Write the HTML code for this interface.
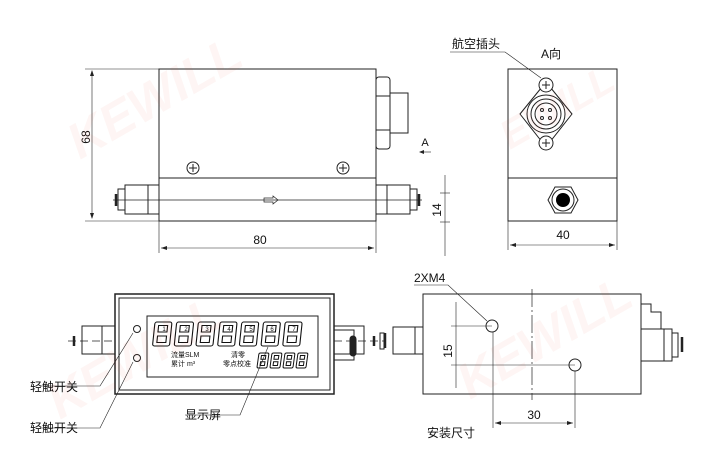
<!DOCTYPE html>
<html><head><meta charset="utf-8"><style>
html,body{margin:0;padding:0;background:#fff;width:715px;height:471px;overflow:hidden}
svg{display:block}
text{font-family:"Liberation Sans","Noto Sans CJK SC",sans-serif;fill:#111}
</style></head><body>
<svg width="715" height="471" viewBox="0 0 715 471" xmlns="http://www.w3.org/2000/svg">
<defs>
<g id="dg" fill="none" stroke="#111" stroke-width="1.1">
<rect x="0" y="0" width="17" height="24" rx="2"/>
<rect x="4" y="3.5" width="9" height="6.5"/>
<rect x="4" y="14" width="9" height="6.5"/>
</g>
<g id="ds" fill="none" stroke="#111" stroke-width="1">
<rect x="0" y="0" width="10" height="15" rx="1.5"/>
<rect x="2.8" y="2.5" width="4.4" height="3.8"/>
<rect x="2.8" y="8.7" width="4.4" height="3.8"/>
</g>
</defs>
<g fill="none" stroke="#222" stroke-width="1">
<!-- TOP LEFT VIEW -->
<rect x="159" y="69" width="217" height="152"/>
<line x1="159" y1="178" x2="376" y2="178"/>
<rect x="125" y="185" width="34" height="29"/>
<line x1="148" y1="185" x2="148" y2="214"/>
<rect x="118" y="189" width="7" height="21"/>
<line x1="116" y1="194" x2="116" y2="206" stroke-width="2.5"/>
<rect x="376" y="185" width="34" height="29"/>
<line x1="387" y1="185" x2="387" y2="214"/>
<rect x="410" y="189" width="7" height="21"/>
<line x1="419" y1="194" x2="419" y2="206" stroke-width="2.5"/>
<line x1="113" y1="200" x2="422" y2="200" stroke-width="0.7"/>
<path d="M264 198h9v-2l5 4-5 4v-2h-9z" stroke-width="0.7"/>
<rect x="376" y="77" width="14" height="72" rx="3"/>
<line x1="376" y1="96" x2="390" y2="96"/><line x1="376" y1="130" x2="390" y2="130"/>
<rect x="390" y="93" width="18" height="40"/>
<circle cx="193" cy="168" r="6"/><path d="M189 168h8M193 164v8"/>
<circle cx="343" cy="168" r="6"/><path d="M339 168h8M343 164v8"/>
<g stroke-width="0.6">
<line x1="85" y1="69" x2="159" y2="69"/><line x1="85" y1="221" x2="159" y2="221"/>
<line x1="92" y1="71" x2="92" y2="218"/>
<line x1="159" y1="221" x2="159" y2="253"/><line x1="376" y1="221" x2="376" y2="253"/>
<line x1="161" y1="248" x2="374" y2="248"/>
<line x1="445" y1="175" x2="445" y2="256"/>
<line x1="440" y1="193" x2="450" y2="193"/><line x1="440" y1="222" x2="450" y2="222"/>
<line x1="420" y1="152" x2="431" y2="152"/>
</g>
</g>
<g fill="#222">
<path d="M92 70l-2 6h4z"/><path d="M92 219l-2-6h4z"/>
<path d="M161 248l6-2v4z"/><path d="M374 248l-6-2v4z"/>
<path d="M419 152l5-2v4z"/>
</g>
<text x="90" y="137" font-size="12" transform="rotate(-90 90 137)" text-anchor="middle">68</text>
<text x="260" y="244" font-size="12" text-anchor="middle">80</text>
<text x="441" y="210" font-size="12" transform="rotate(-90 441 210)" text-anchor="middle">14</text>
<text x="425" y="146" font-size="11" text-anchor="middle">A</text>

<!-- TOP RIGHT VIEW -->
<g fill="none" stroke="#222" stroke-width="1">
<rect x="508" y="69" width="109" height="152"/>
<line x1="508" y1="178" x2="617" y2="178"/>
<path d="M546 82 L572 114 L546 147 L520 114 Z" stroke-linejoin="round"/>
<circle cx="546" cy="114" r="19"/><circle cx="546" cy="114" r="15"/><circle cx="546" cy="114" r="11"/>
<circle cx="542" cy="110" r="1.5"/><circle cx="550" cy="110" r="1.5"/><circle cx="542" cy="118" r="1.5"/><circle cx="550" cy="118" r="1.5"/>
<circle cx="546" cy="85" r="7" fill="#fff"/><path d="M542 85h8M546 81v8"/>
<circle cx="546" cy="143" r="7" fill="#fff"/><path d="M542 143h8M546 139v8"/>
<path d="M555 187h16l7 13-7 13h-16l-7-13z"/>
<circle cx="563" cy="200" r="11"/>
<g stroke-width="0.6">
<line x1="508" y1="221" x2="508" y2="250"/><line x1="617" y1="221" x2="617" y2="250"/>
<line x1="510" y1="245" x2="615" y2="245"/>
<path d="M450 52 H505 L541 78"/>
</g>
</g>
<circle cx="563" cy="200" r="7" fill="#000"/>
<path d="M510 245l6-2v4z M615 245l-6-2v4z" fill="#222"/>
<text x="563" y="239" font-size="12" text-anchor="middle">40</text>
<text x="452" y="48" font-size="12">航空插头</text>
<text x="541" y="58" font-size="12">A向</text>

<!-- BOTTOM LEFT -->
<g fill="none" stroke="#222" stroke-width="1">
<rect x="115" y="294" width="219" height="100" stroke-width="1.5"/>
<rect x="119" y="298" width="211" height="92"/>
<rect x="147" y="316" width="171" height="61"/>
<circle cx="137" cy="329" r="3.5"/><circle cx="137" cy="358" r="3.5"/>
<rect x="82" y="326" width="33" height="28"/>
<line x1="102" y1="326" x2="102" y2="354"/>
<line x1="74" y1="336" x2="74" y2="346" stroke-width="2.5"/>
<line x1="68" y1="341" x2="115" y2="341" stroke-dasharray="8 4" stroke-width="0.7"/>
<rect x="334" y="326" width="30" height="28"/>
<path d="M334 330h20v30h-20"/>
<rect x="350" y="336" width="6" height="20" rx="3" fill="#222"/>
<line x1="374" y1="336" x2="374" y2="346" stroke-width="2.5"/>
<rect x="380" y="333" width="4" height="16"/>
<line x1="334" y1="341" x2="385" y2="341" stroke-dasharray="8 4" stroke-width="0.7"/>
<g stroke-width="0.6">
<path d="M133 333 L100 386 H40"/>
<path d="M133 362 L100 428 H40"/>
<path d="M268 347 L240 415 H185"/>
</g>
</g>
<g transform="translate(155 322) skewX(-6)">
<use href="#dg" x="0"/><use href="#dg" x="21.7"/><use href="#dg" x="43.4"/><use href="#dg" x="65.1"/><use href="#dg" x="86.8"/><use href="#dg" x="108.5"/><use href="#dg" x="130.2"/>
</g>
<g font-size="6" text-anchor="middle">
<text x="164" y="331">1</text><text x="186" y="331">2</text><text x="207" y="331">3</text><text x="229" y="331">4</text><text x="251" y="331">5</text><text x="272" y="331">6</text><text x="294" y="331">7</text>
</g>
<g transform="translate(259 353) skewX(-8)">
<use href="#ds" x="0"/><use href="#ds" x="13"/><use href="#ds" x="26"/><use href="#ds" x="39"/>
</g>
<g font-size="7">
<text x="171" y="357">流量SLM</text><text x="171" y="366">累计 m³</text>
<text x="231" y="357">清零</text><text x="223" y="366">零点校准</text>
</g>
<text x="30" y="391" font-size="12">轻触开关</text>
<text x="30" y="432" font-size="12">轻触开关</text>
<text x="185" y="419" font-size="12">显示屏</text>

<!-- BOTTOM RIGHT -->
<g fill="none" stroke="#222" stroke-width="1">
<rect x="423" y="294" width="218" height="100"/>
<rect x="393" y="327" width="30" height="27"/>
<line x1="415" y1="327" x2="415" y2="354"/>
<line x1="385" y1="333" x2="385" y2="348" stroke-width="2.5"/>
<rect x="641" y="329" width="31" height="32"/>
<line x1="664" y1="329" x2="664" y2="361"/>
<path d="M641 304h10v8h10v17"/>
<line x1="682" y1="337" x2="682" y2="352" stroke-width="2.5"/>
<rect x="672" y="333" width="6" height="24"/>
<circle cx="492" cy="326" r="6"/><circle cx="575" cy="365" r="6"/>
<line x1="532" y1="289" x2="532" y2="400" stroke-dasharray="18 3 2 3" stroke-width="0.7"/>
<g stroke-width="0.6">
<line x1="451" y1="326" x2="492" y2="326"/><line x1="451" y1="365" x2="575" y2="365"/>
<line x1="456" y1="302" x2="456" y2="388"/>
<line x1="493" y1="332" x2="493" y2="428"/><line x1="575" y1="371" x2="575" y2="428"/>
<line x1="495" y1="423" x2="573" y2="423"/>
<path d="M414 285 H448 L487 321"/>
</g>
</g>
<path d="M495 423l6-2v4z M573 423l-6-2v4z" fill="#222"/>
<text x="452" y="351" font-size="12" transform="rotate(-90 452 351)" text-anchor="middle">15</text>
<text x="534" y="419" font-size="12" text-anchor="middle">30</text>
<text x="414" y="282" font-size="12">2XM4</text>
<text x="427" y="437" font-size="12">安装尺寸</text>

<g opacity="0.05" font-weight="bold" font-style="italic">
<text x="80" y="160" font-size="50" transform="rotate(-30 80 160)" style="fill:#e03a1a">KEWILL</text>
<text x="510" y="150" font-size="40" transform="rotate(-30 510 150)" style="fill:#e03a1a">EWILL</text>
<text x="60" y="420" font-size="50" transform="rotate(-30 60 420)" style="fill:#e03a1a">KEWILL</text>
<text x="470" y="400" font-size="50" transform="rotate(-30 470 400)" style="fill:#e03a1a">KEWILL</text>
</g>
</svg>
</body></html>
